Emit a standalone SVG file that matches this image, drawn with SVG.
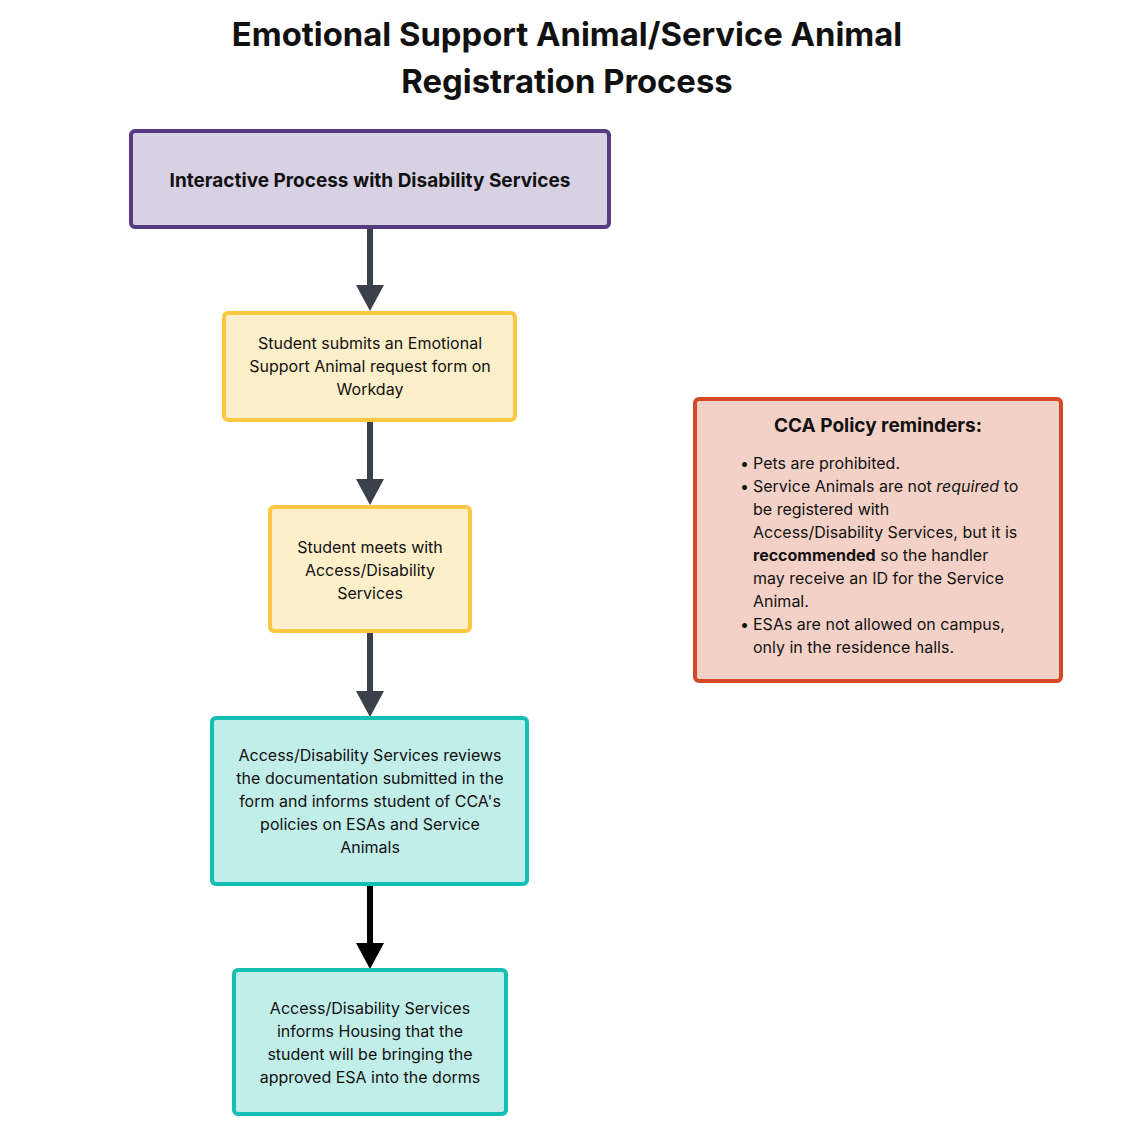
<svg xmlns="http://www.w3.org/2000/svg" width="1130" height="1128" viewBox="0 0 1130 1128">
<style>
text{font-family:Inter,"Noto Sans","Liberation Sans",sans-serif;fill:#111}
.t{font-size:32.8px;font-weight:700;text-anchor:middle}
.b{font-size:16px;text-anchor:middle}
.h{font-size:19px;font-weight:700;text-anchor:middle}
.l{font-size:16px}
.box{stroke-width:4}
.purple{fill:#d8d1e4;stroke:#553a84}
.yellow{fill:#fdefc9;stroke:#fcc743}
.teal{fill:#c2eeea;stroke:#12bfb0}
.red{fill:#f4d1c7;stroke:#d44a28}
.edge{stroke:#3a414b;stroke-width:6;fill:none}
</style>
<rect width="1130" height="1128" fill="#ffffff"/>
<text class="t" x="567" y="46">Emotional Support Animal/Service Animal</text>
<text class="t" x="567" y="93">Registration Process</text>
<g id="connectors">
<line class="edge" x1="370" y1="227" x2="370" y2="287"/>
<polygon points="356,285 384,285 370,311" fill="#3a414b"/>
<line class="edge" x1="370" y1="420" x2="370" y2="481"/>
<polygon points="356,479 384,479 370,505" fill="#3a414b"/>
<line class="edge" x1="370" y1="631" x2="370" y2="693"/>
<polygon points="356,691 384,691 370,717" fill="#3a414b"/>
<line x1="370" y1="884" x2="370" y2="945" stroke="#000" stroke-width="6"/>
<polygon points="356,943 384,943 370,969" fill="#000"/>
</g>
<g id="n1">
<rect class="box purple" x="131" y="131" width="478" height="96" rx="4"/>
<text class="h" x="370" y="187">Interactive Process with Disability Services</text>
</g>
<g id="n2">
<rect class="box yellow" x="224" y="313" width="291" height="107" rx="4"/>
<text class="b" x="370" y="349">Student submits an Emotional</text>
<text class="b" x="370" y="372">Support Animal request form on</text>
<text class="b" x="370" y="395">Workday</text>
</g>
<g id="n3">
<rect class="box yellow" x="270" y="507" width="200" height="124" rx="4"/>
<text class="b" x="370" y="553">Student meets with</text>
<text class="b" x="370" y="576">Access/Disability</text>
<text class="b" x="370" y="599">Services</text>
</g>
<g id="n4">
<rect class="box teal" x="212" y="718" width="315" height="166" rx="4"/>
<text class="b" x="370" y="761">Access/Disability Services reviews</text>
<text class="b" x="370" y="784">the documentation submitted in the</text>
<text class="b" x="370" y="807">form and informs student of CCA's</text>
<text class="b" x="370" y="830">policies on ESAs and Service</text>
<text class="b" x="370" y="853">Animals</text>
</g>
<g id="n5">
<rect class="box teal" x="234" y="970" width="272" height="144" rx="4"/>
<text class="b" x="370" y="1014">Access/Disability Services</text>
<text class="b" x="370" y="1037">informs Housing that the</text>
<text class="b" x="370" y="1060">student will be bringing the</text>
<text class="b" x="370" y="1083">approved ESA into the dorms</text>
</g>
<g id="policy">
<rect class="box red" x="695" y="399" width="366" height="282" rx="4"/>
<text class="h" x="878" y="432">CCA Policy reminders:</text>
<text class="l" x="740" y="469">•</text>
<text class="l" x="753" y="469">Pets are prohibited.</text>
<text class="l" x="740" y="492">•</text>
<text class="l" x="753" y="492">Service Animals are not <tspan font-style="italic">required</tspan> to</text>
<text class="l" x="753" y="515">be registered with</text>
<text class="l" x="753" y="538">Access/Disability Services, but it is</text>
<text class="l" x="753" y="561"><tspan font-weight="700">reccommended</tspan> so the handler</text>
<text class="l" x="753" y="584">may receive an ID for the Service</text>
<text class="l" x="753" y="607">Animal.</text>
<text class="l" x="740" y="630">•</text>
<text class="l" x="753" y="630">ESAs are not allowed on campus,</text>
<text class="l" x="753" y="653">only in the residence halls.</text>
</g>
</svg>
